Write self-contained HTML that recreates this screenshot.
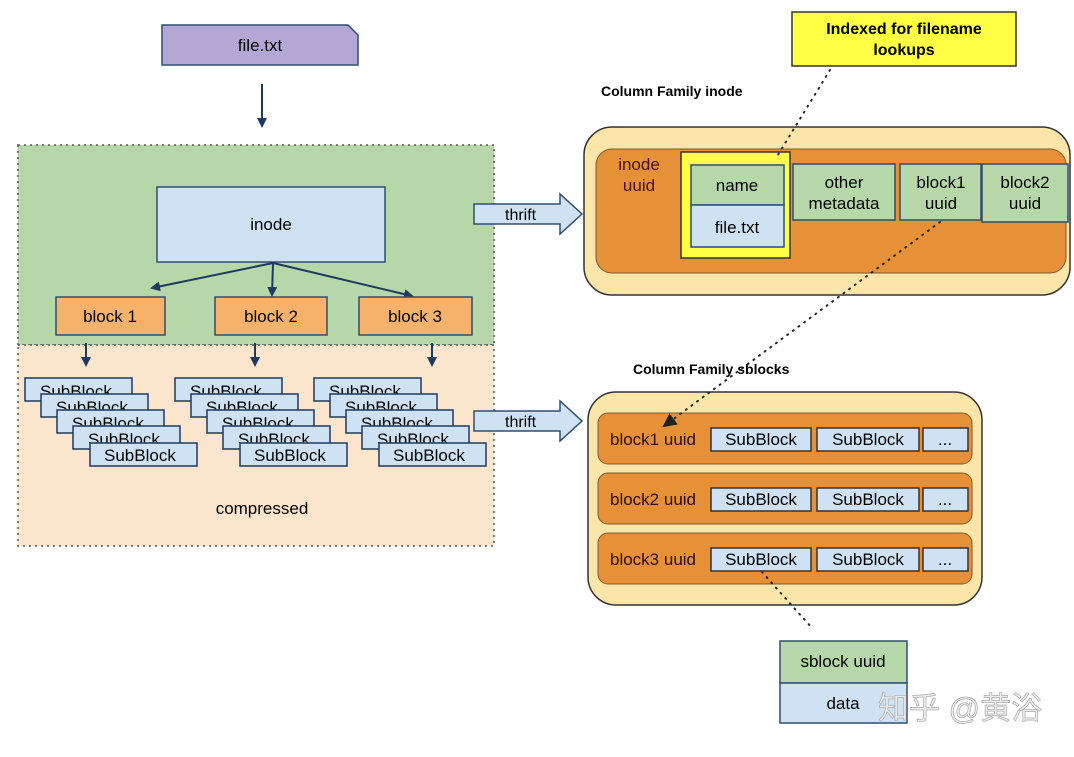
<!DOCTYPE html>
<html><head><meta charset="utf-8"><style>
body{margin:0;background:#fff;}
svg text{font-family:"Liberation Sans","Noto Sans CJK SC",sans-serif;}
</style></head><body>
<svg width="1074" height="752" xmlns="http://www.w3.org/2000/svg">
<defs>
<marker id="ah" markerWidth="10" markerHeight="10" refX="8" refY="5" orient="auto" markerUnits="userSpaceOnUse"><path d="M0,0 L10,5 L0,10 z" fill="#1f3a5f"/></marker>
<marker id="ah2" markerWidth="14" markerHeight="14" refX="12" refY="7" orient="auto" markerUnits="userSpaceOnUse"><path d="M0,0 L14,7 L0,14 z" fill="#222"/></marker>
</defs>
<rect width="1074" height="752" fill="#fff"/>
<path d="M162,25 H348 L358,35 V65 H162 Z" fill="#b4a7d6" stroke="#2f4f6f" stroke-width="1.5"/>
<text x="260" y="51" font-size="17" text-anchor="middle">file.txt</text>
<line x1="262" y1="84" x2="262" y2="126" stroke="#1f3a5f" stroke-width="2" marker-end="url(#ah)"/>
<rect x="18" y="145" width="476" height="200" fill="#b6d7a8" stroke="#555" stroke-dasharray="2,4" stroke-width="1.5"/>
<rect x="18" y="345" width="476" height="201" fill="#fce5cd" stroke="#555" stroke-dasharray="2,4" stroke-width="1.5"/>
<rect x="157" y="187" width="228" height="75" fill="#cfe2f3" stroke="#2f4f6f" stroke-width="1.5"/>
<text x="271" y="230" font-size="17" text-anchor="middle">inode</text>
<line x1="273" y1="263" x2="152" y2="288" stroke="#1f3a5f" stroke-width="2" marker-end="url(#ah)"/>
<line x1="273" y1="263" x2="272" y2="295" stroke="#1f3a5f" stroke-width="2" marker-end="url(#ah)"/>
<line x1="273" y1="263" x2="412" y2="296" stroke="#1f3a5f" stroke-width="2" marker-end="url(#ah)"/>
<g fill="#f6b26b" stroke="#2f4f6f" stroke-width="1.5">
<rect x="56" y="297" width="109" height="38"/><rect x="215" y="297" width="112" height="38"/><rect x="359" y="297" width="113" height="38"/></g>
<g font-size="17" text-anchor="middle"><text x="110" y="322">block 1</text><text x="271" y="322">block 2</text><text x="415" y="322">block 3</text></g>
<line x1="86" y1="343" x2="86" y2="365" stroke="#1f3a5f" stroke-width="2" marker-end="url(#ah)"/>
<line x1="255" y1="343" x2="255" y2="365" stroke="#1f3a5f" stroke-width="2" marker-end="url(#ah)"/>
<line x1="432" y1="343" x2="432" y2="365" stroke="#1f3a5f" stroke-width="2" marker-end="url(#ah)"/>
<g id="st" font-size="17">
<rect x="25" y="378" width="107" height="23" fill="#cfe2f3" stroke="#1f3a5f" stroke-width="1.5"/><text x="40" y="397">SubBlock</text>
<rect x="41" y="394" width="107" height="23" fill="#cfe2f3" stroke="#1f3a5f" stroke-width="1.5"/><text x="56" y="413">SubBlock</text>
<rect x="57" y="410" width="107" height="23" fill="#cfe2f3" stroke="#1f3a5f" stroke-width="1.5"/><text x="72" y="429">SubBlock</text>
<rect x="73" y="426" width="107" height="23" fill="#cfe2f3" stroke="#1f3a5f" stroke-width="1.5"/><text x="88" y="445">SubBlock</text>
<rect x="90" y="443" width="107" height="23" fill="#cfe2f3" stroke="#1f3a5f" stroke-width="1.5"/><text x="104" y="461">SubBlock</text>
</g>
<use href="#st" x="150"/><use href="#st" x="289"/>
<text x="262" y="514" font-size="17" text-anchor="middle">compressed</text>
<path d="M474,204 H560 V194 L582,214 L560,234 V224 H474 Z" fill="#cfe2f3" stroke="#2f4f6f" stroke-width="1.5"/>
<text x="505" y="220" font-size="16">thrift</text>
<path d="M474,411 H560 V401 L582,421 L560,441 V431 H474 Z" fill="#cfe2f3" stroke="#2f4f6f" stroke-width="1.5"/>
<text x="505" y="427" font-size="16">thrift</text>
<text x="601" y="96" font-size="14" font-weight="bold">Column Family inode</text>
<rect x="584" y="127" width="486" height="168" rx="28" fill="#fce5a8" stroke="#333" stroke-width="1.5"/>
<rect x="596" y="149" width="470" height="124" rx="16" fill="#e69138" stroke="#7a5a2a" stroke-width="1"/>
<text x="639" y="170" font-size="17" fill="#4a1010" text-anchor="middle">inode</text>
<text x="639" y="191" font-size="17" fill="#4a1010" text-anchor="middle">uuid</text>
<rect x="681" y="152" width="109" height="106" fill="#ffff44" stroke="#333" stroke-width="1.5"/>
<rect x="691" y="165" width="93" height="40" fill="#b6d7a8" stroke="#2f4f6f" stroke-width="1.5"/>
<rect x="691" y="205" width="93" height="42" fill="#cfe2f3" stroke="#2f4f6f" stroke-width="1.5"/>
<text x="737" y="191" font-size="17" text-anchor="middle">name</text>
<text x="737" y="233" font-size="17" text-anchor="middle">file.txt</text>
<g fill="#b6d7a8" stroke="#2f4f6f" stroke-width="1.5">
<rect x="793" y="164" width="102" height="56"/><rect x="900" y="164" width="81" height="56"/><rect x="982" y="164" width="86" height="58"/></g>
<g font-size="17" text-anchor="middle">
<text x="844" y="188">other</text><text x="844" y="209">metadata</text>
<text x="941" y="188">block1</text><text x="941" y="209">uuid</text>
<text x="1025" y="188">block2</text><text x="1025" y="209">uuid</text></g>
<rect x="792" y="12" width="224" height="54" fill="#ffff44" stroke="#333" stroke-width="1.5"/>
<text x="904" y="34" font-size="16" text-anchor="middle" font-weight="bold">Indexed for filename</text>
<text x="904" y="55" font-size="16" text-anchor="middle" font-weight="bold">lookups</text>
<line x1="830" y1="70" x2="776" y2="158" stroke="#222" stroke-width="2" stroke-dasharray="1,6" stroke-linecap="round"/>
<text x="633" y="374" font-size="14" font-weight="bold">Column Family sblocks</text>
<rect x="588" y="392" width="394" height="213" rx="28" fill="#fce5a8" stroke="#333" stroke-width="1.5"/>
<g fill="#e69138" stroke="#7a5a2a" stroke-width="1">
<rect x="598" y="413" width="374" height="51" rx="10"/><rect x="598" y="473" width="374" height="51" rx="10"/><rect x="598" y="533" width="374" height="51" rx="10"/></g>
<g font-size="17">
<text x="610" y="445" fill="#2a0a0a">block1 uuid</text>
<rect x="711" y="428" width="100" height="23" fill="#cfe2f3" stroke="#333" stroke-width="1.5"/><text x="761" y="445" text-anchor="middle">SubBlock</text>
<rect x="817" y="428" width="102" height="23" fill="#cfe2f3" stroke="#333" stroke-width="1.5"/><text x="868" y="445" text-anchor="middle">SubBlock</text>
<rect x="923" y="428" width="45" height="23" fill="#cfe2f3" stroke="#333" stroke-width="1.5"/><text x="945" y="445" text-anchor="middle">...</text>
<text x="610" y="505" fill="#2a0a0a">block2 uuid</text>
<rect x="711" y="488" width="100" height="23" fill="#cfe2f3" stroke="#333" stroke-width="1.5"/><text x="761" y="505" text-anchor="middle">SubBlock</text>
<rect x="817" y="488" width="102" height="23" fill="#cfe2f3" stroke="#333" stroke-width="1.5"/><text x="868" y="505" text-anchor="middle">SubBlock</text>
<rect x="923" y="488" width="45" height="23" fill="#cfe2f3" stroke="#333" stroke-width="1.5"/><text x="945" y="505" text-anchor="middle">...</text>
<text x="610" y="565" fill="#2a0a0a">block3 uuid</text>
<rect x="711" y="548" width="100" height="23" fill="#cfe2f3" stroke="#333" stroke-width="1.5"/><text x="761" y="565" text-anchor="middle">SubBlock</text>
<rect x="817" y="548" width="102" height="23" fill="#cfe2f3" stroke="#333" stroke-width="1.5"/><text x="868" y="565" text-anchor="middle">SubBlock</text>
<rect x="923" y="548" width="45" height="23" fill="#cfe2f3" stroke="#333" stroke-width="1.5"/><text x="945" y="565" text-anchor="middle">...</text>
</g>
<line x1="940" y1="222" x2="664" y2="426" stroke="#222" stroke-width="2" stroke-dasharray="1,6" stroke-linecap="round" marker-end="url(#ah2)"/>
<line x1="762" y1="572" x2="812" y2="628" stroke="#222" stroke-width="2" stroke-dasharray="1,6" stroke-linecap="round"/>
<rect x="780" y="641" width="127" height="42" fill="#b6d7a8" stroke="#2f4f6f" stroke-width="1.5"/>
<rect x="780" y="683" width="127" height="40" fill="#cfe2f3" stroke="#2f4f6f" stroke-width="1.5"/>
<text x="843" y="667" font-size="17" text-anchor="middle">sblock uuid</text>
<text x="843" y="709" font-size="17" text-anchor="middle">data</text>
<text x="878" y="719" font-size="31" fill="#eeeeee" stroke="#aaa" stroke-width="0.7">知乎 @黄浴</text>
</svg>
</body></html>
